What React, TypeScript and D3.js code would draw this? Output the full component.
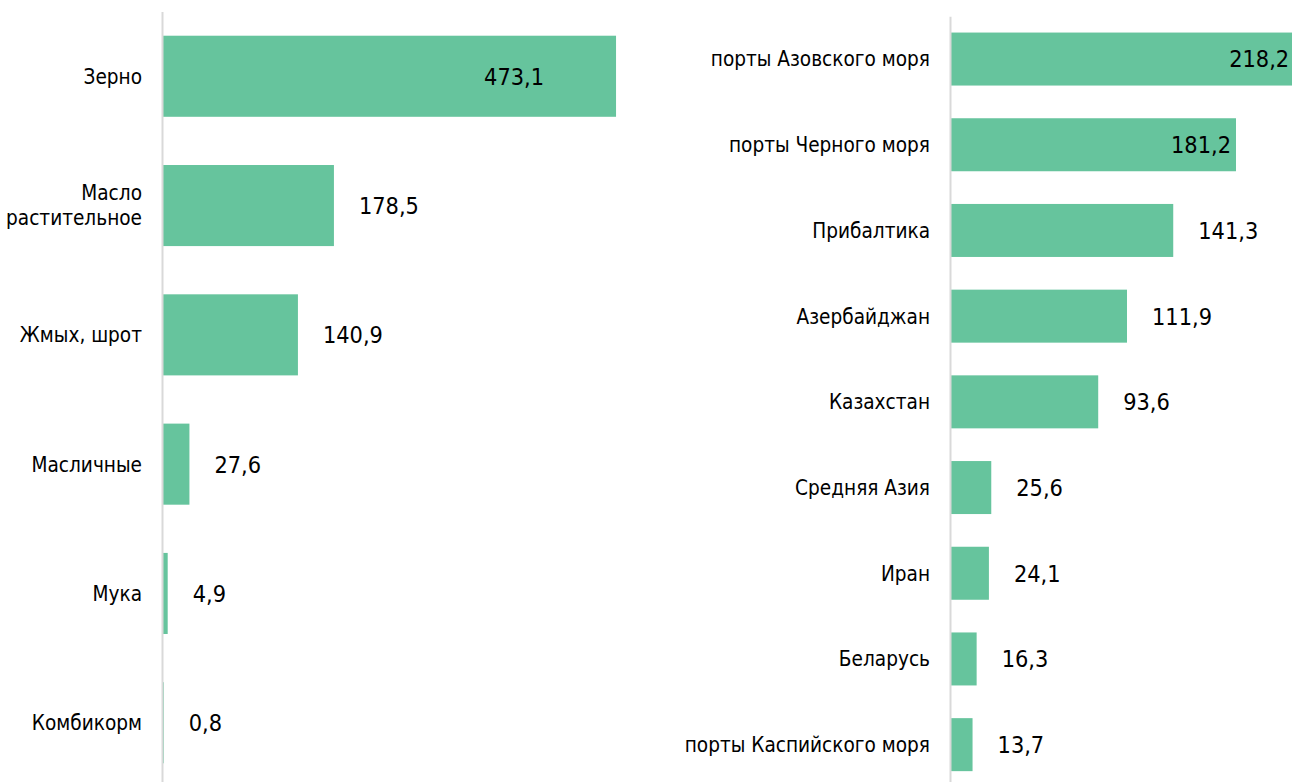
import React, { useEffect, useRef } from "react";
import * as d3 from "d3";

const productCategories = [
  "Зерно",
  "Масло растительное",
  "Жмых, шрот",
  "Масличные",
  "Мука",
  "Комбикорм",
];
const productValues = [473.1, 178.5, 140.9, 27.6, 4.9, 0.8];

const routeCategories = [
  "порты Азовского моря",
  "порты Черного моря",
  "Прибалтика",
  "Азербайджан",
  "Казахстан",
  "Средняя Азия",
  "Иран",
  "Беларусь",
  "порты Каспийского моря",
];
const routeValues = [218.2, 181.2, 141.3, 111.9, 93.6, 25.6, 24.1, 16.3, 13.7];

// lines for wrapped category labels
const wrapLabel: Record<string, string[]> = {
  "Масло растительное": ["Масло", "растительное"],
};

const BAR = "#66c49d";
const AXIS = "#d9d9d9";
const FONT = "'DejaVu Sans Condensed', 'DejaVu Sans', sans-serif";

const locale = d3.formatLocale({
  decimal: ",",
  thousands: " ",
  grouping: [3],
  currency: ["", ""],
});
const fmt = locale.format(".1f");

type Opts = {
  cats: string[];
  vals: number[];
  axisX: number;
  xMax: number;
  xWidth: number;
  yTop: number;
  yBottom: number;
  pad: number;
  insideN: number;
  insideInset: number;
};

function drawChart(g: d3.Selection<SVGGElement, unknown, null, undefined>, o: Opts) {
  const x = d3.scaleLinear().domain([0, o.xMax]).range([o.axisX + 1, o.axisX + 1 + o.xWidth]);
  const y = d3
    .scaleBand<string>()
    .domain(o.cats)
    .range([o.yTop, o.yBottom])
    .paddingInner(o.pad)
    .paddingOuter(o.pad / 2);

  const data = o.cats.map((c, i) => ({ c, v: o.vals[i], i }));

  g.selectAll("rect.bar")
    .data(data)
    .join("rect")
    .attr("class", "bar")
    .attr("x", x(0))
    .attr("y", (d) => y(d.c)!)
    .attr("width", (d) => x(d.v) - x(0))
    .attr("height", y.bandwidth())
    .attr("fill", BAR);

  const axis = d3.axisLeft(y).tickSize(0).tickSizeOuter(0).tickFormat(() => "");
  const ag = g.append("g").attr("transform", `translate(${o.axisX},0)`).call(axis);
  ag.select(".domain").attr("stroke", AXIS).attr("stroke-width", 2);

  // category labels
  const lab = g
    .selectAll("text.cat")
    .data(data)
    .join("text")
    .attr("class", "cat")
    .attr("text-anchor", "end")
    .attr("font-family", FONT)
    .attr("font-size", 20.6)
    .attr("fill", "#000");
  lab.each(function (d) {
    const lines = wrapLabel[d.c] || [d.c];
    const cy = y(d.c)! + y.bandwidth() / 2;
    const lh = 25;
    const t = d3.select(this);
    lines.forEach((ln, k) => {
      t.append("tspan")
        .attr("x", o.axisX - 20)
        .attr("y", cy + (k - (lines.length - 1) / 2) * lh)
        .attr("dy", "0.36em")
        .text(ln);
    });
  });

  // value labels
  g.selectAll("text.val")
    .data(data)
    .join("text")
    .attr("class", "val")
    .attr("font-family", FONT)
    .attr("font-size", 23.3)
    .attr("fill", "#000")
    .attr("text-anchor", (d) => (d.i < o.insideN ? "end" : "start"))
    .attr("x", (d) => (d.i < o.insideN ? x(d.v) - o.insideInset : x(d.v) + 25))
    .attr("y", (d) => y(d.c)! + y.bandwidth() / 2)
    .attr("dy", "0.36em")
    .text((d) => fmt(d.v));
}

export default function App() {
  const ref = useRef<SVGSVGElement>(null);

  useEffect(() => {
    const svg = d3.select(ref.current!);
    svg.selectAll("*").remove();

    drawChart(svg.append("g"), {
      cats: productCategories,
      vals: productValues,
      axisX: 162,
      xMax: 500,
      xWidth: 478.8,
      yTop: 11.6,
      yBottom: 787.4,
      pad: 0.373,
      insideN: 1,
      insideInset: 72,
    });

    drawChart(svg.append("g"), {
      cats: routeCategories,
      vals: routeValues,
      axisX: 950,
      xMax: 250,
      xWidth: 393.2,
      yTop: 16.2,
      yBottom: 787.5,
      pad: 0.3816,
      insideN: 2,
      insideInset: 5,
    });
  }, []);

  return (
    <svg
      ref={ref}
      width={1292}
      height={782}
      style={{ position: "absolute", left: 0, top: 0, display: "block", background: "#fff" }}
    />
  );
}
